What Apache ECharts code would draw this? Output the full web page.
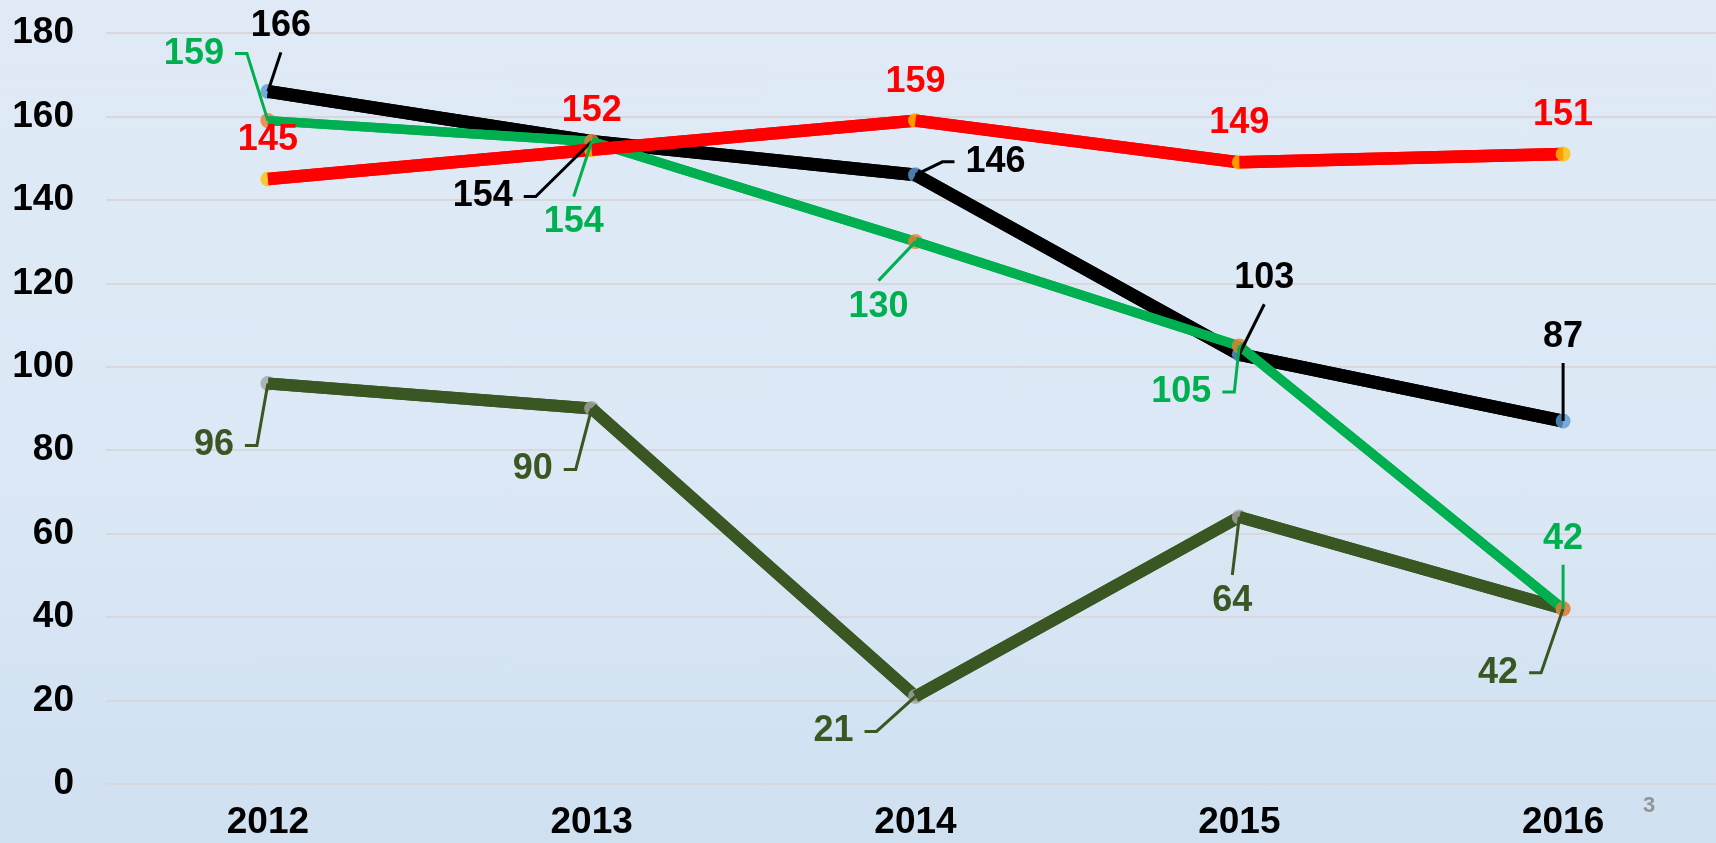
<!DOCTYPE html>
<html lang="en">
<head>
    <meta charset="UTF-8">
    <title>2012 - 2016</title>
    <script src="https://cdn.jsdelivr.net/npm/echarts@6/dist/echarts.min.js"></script>
    <style>
        html, body {
            margin: 0;
            padding: 0;
        }

        #main {
            width: 1716px;
            height: 843px;
            background: linear-gradient(to bottom, #dfeaf6 0%, #dce8f5 55%, #cfe0f1 100%);
        }
    </style>
</head>
<body>
<div id="main"></div>
<script>
    var years = ['2012', '2013', '2014', '2015', '2016'];
    var blackValues = [166, 154, 146, 103, 87];
    var redValues = [145, 152, 159, 149, 151];
    var greenValues = [159, 154, 130, 105, 42];
    var oliveValues = [96, 90, 21, 64, 42];

    // where each value label sits relative to its point: [dx, dy, side the leader line leaves from]
    var blackLabelPos = [[13, -65, 'bottom'], [-109, 55, 'right'], [80, -13, 'left'], [25, -76, 'bottom'], [0, -84, 'bottom']];
    var redLabelPos = [[0, -39, 'none'], [0, -39, 'none'], [0, -39, 'none'], [0, -39, 'none'], [0, -39, 'none']];
    var greenLabelPos = [[-74, -67, 'right'], [-18, 81, 'top'], [-37, 65, 'top'], [-58, 46, 'right'], [0, -70, 'bottom']];
    var oliveLabelPos = [[-54, 62, 'right'], [-59, 61, 'right'], [-82, 35, 'right'], [-7, 84, 'top'], [-65, 64, 'right']];

    var FONT = '"Liberation Sans", Arial, sans-serif';
    var LABEL_SIZE = 36;

    // like the office chart: marker i is drawn over the incoming segment
    // and under the outgoing one, so each series is built from pieces
    function seriesGroup(values, lineColor, width, markerColor, base) {
        var out = [{
            type: 'line', data: values, z: base, symbol: 'none', silent: true, animation: false,
            lineStyle: {color: lineColor, width: width}
        }];
        values.forEach(function (v, k) {
            out.push({
                type: 'scatter', data: [[k, v]], z: base + 1 + 2 * k, symbolSize: 15,
                silent: true, animation: false, itemStyle: {color: markerColor}
            });
            if (k < values.length - 1) {
                out.push({
                    type: 'line', z: base + 2 + 2 * k, symbol: 'none', silent: true, animation: false,
                    data: values.map(function (w, i) { return (i === k || i === k + 1) ? w : null; }),
                    lineStyle: {color: lineColor, width: width, cap: 'butt'}
                });
            }
        });
        return out;
    }

    function labelSeries(values, placement, color) {
        return {
            type: 'custom', z: 100, silent: true, animation: false,
            data: values.map(function (v, i) { return [i, v]; }),
            renderItem: function (params, api) {
                var pt = api.coord([api.value(0), api.value(1)]);
                var p = placement[params.dataIndex];
                var text = String(api.value(1));
                var cx = pt[0] + p[0], cy = pt[1] + p[1];
                var halfW = text.length * 0.556 * LABEL_SIZE / 2;
                var halfH = 0.36 * LABEL_SIZE;
                var pts = null, s;
                if (p[2] === 'right') {
                    s = cx + halfW + 11;
                    pts = [[s, cy], [s + 12, cy], pt];
                } else if (p[2] === 'left') {
                    s = cx - halfW - 11;
                    pts = [[s, cy], [s - 12, cy], pt];
                } else if (p[2] === 'bottom') {
                    pts = [[cx, cy + halfH + 13], pt];
                } else if (p[2] === 'top') {
                    pts = [[cx, cy - halfH - 13], pt];
                }
                var children = [{
                    type: 'text', x: cx, y: cy,
                    style: {
                        text: text, fill: color, fontSize: LABEL_SIZE, fontWeight: 'bold', fontFamily: FONT,
                        align: 'center', verticalAlign: 'middle'
                    }
                }];
                if (pts) {
                    children.unshift({
                        type: 'polyline', shape: {points: pts},
                        style: {stroke: color, lineWidth: 3, fill: null}
                    });
                }
                return {type: 'group', children: children};
            }
        };
    }

    var series = [].concat(
        seriesGroup(oliveValues, '#3a5723', 12, '#a5a5a5', 1),
        seriesGroup(blackValues, '#000000', 13, '#5b9bd5', 20),
        seriesGroup(greenValues, '#00b050', 9.5, '#ed7d31', 40),
        seriesGroup(redValues, '#ff0000', 12.5, '#ffc000', 60),
        [
            labelSeries(oliveValues, oliveLabelPos, '#3a5723'),
            labelSeries(blackValues, blackLabelPos, '#000000'),
            labelSeries(greenValues, greenLabelPos, '#00b050'),
            labelSeries(redValues, redLabelPos, '#ff0000')
        ]
    );

    var myChart = echarts.init(document.getElementById('main'));
    myChart.setOption({
        backgroundColor: 'transparent',
        animation: false,
        grid: {left: 106, right: -9, top: 33, bottom: 59, containLabel: false, outerBoundsMode: 'none'},
        xAxis: {
            type: 'category', data: years, boundaryGap: true,
            axisLine: {show: false}, axisTick: {show: false},
            axisLabel: {color: '#000', fontSize: 37, fontWeight: 'bold', fontFamily: FONT, margin: 20}
        },
        yAxis: {
            type: 'value', min: 0, max: 180, interval: 20,
            axisLine: {show: false}, axisTick: {show: false},
            axisLabel: {color: '#000', fontSize: 37, fontWeight: 'bold', fontFamily: FONT, margin: 32},
            splitLine: {lineStyle: {color: '#d6d8dc', width: 2}}
        },
        graphic: [{
            type: 'text', left: 1643, top: 795, silent: true,
            style: {text: '3', fill: '#939393', fontSize: 22, fontWeight: 'bold', fontFamily: FONT}
        }],
        series: series
    });
</script>
</body>
</html>
